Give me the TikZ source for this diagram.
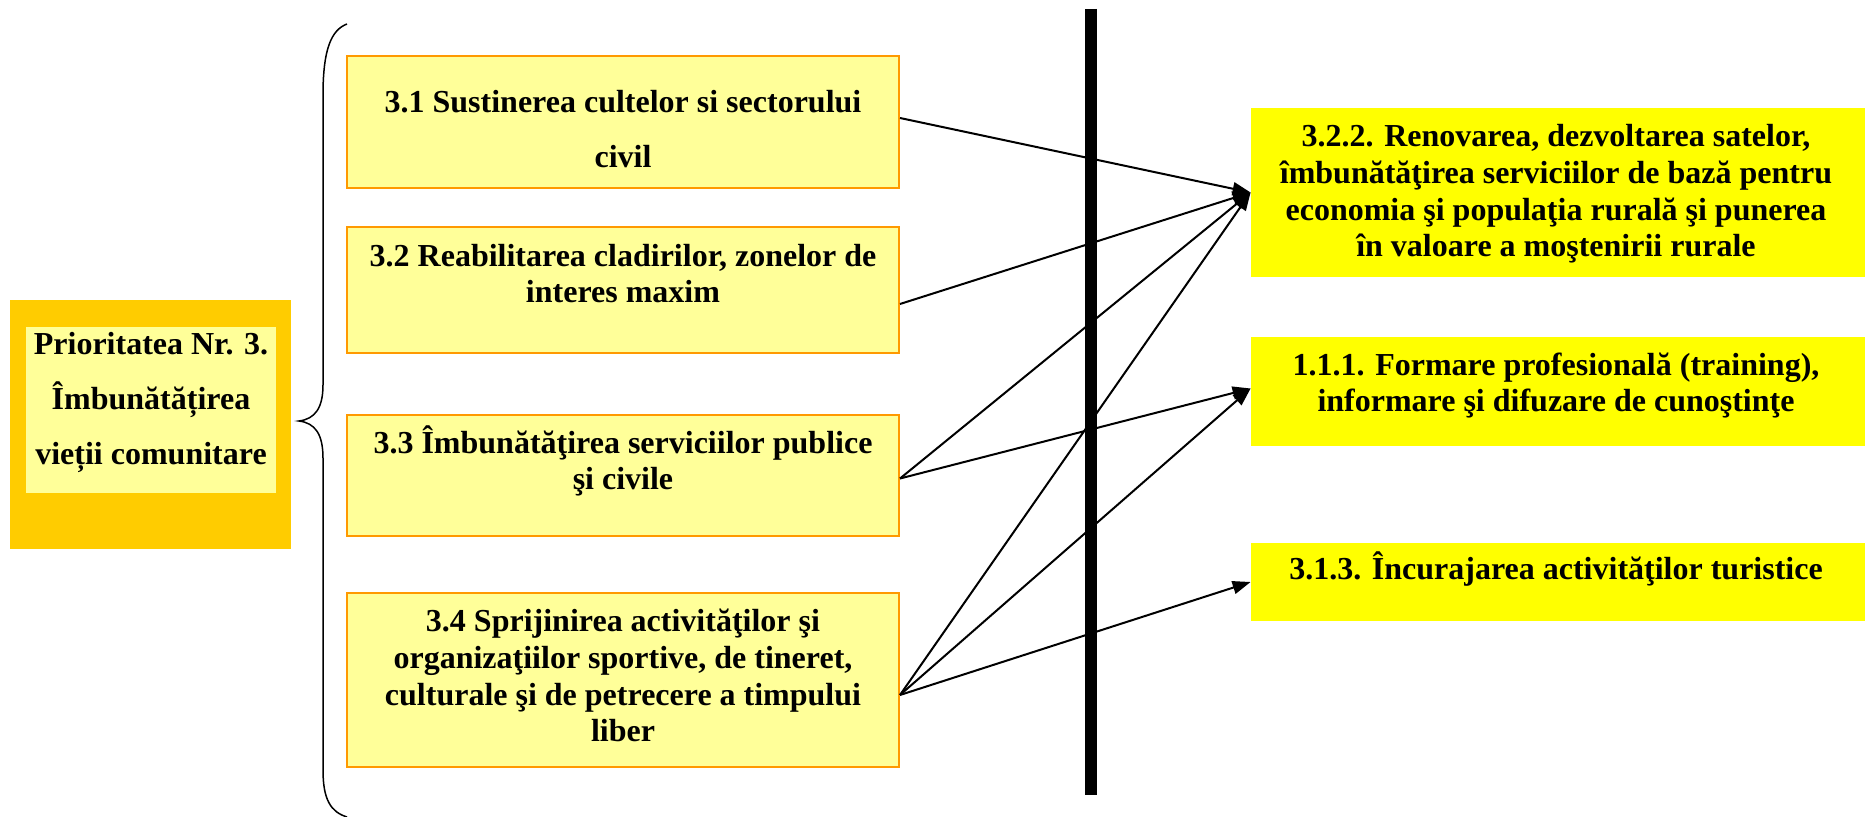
\documentclass[tikz,border=0pt]{standalone}
\usepackage{fontspec}
\setmainfont{Liberation Serif}
\usetikzlibrary{arrows.meta,calc}
\definecolor{gold}{HTML}{FFCC00}
\definecolor{pale}{HTML}{FFFF99}
\definecolor{ylw}{HTML}{FFFF00}
\definecolor{orng}{HTML}{FF9900}
\begin{document}
\begin{tikzpicture}[x=0.5pt,y=-0.5pt,
  box/.style={inner sep=0pt, minimum width=276pt},
  subbox/.style={box, fill=pale, draw=orng, line width=1pt},
  goal/.style={inner sep=0pt, minimum width=307pt, fill=ylw},
  txt/.style={inner sep=0pt, align=center, font=\bfseries\fontsize{16}{18.35}\selectfont},
  wtxt/.style={txt, font=\bfseries\fontsize{16}{27.5}\selectfont},
  arr/.style={line width=1pt, -{Triangle[length=9pt,width=6.5pt]}},
  brace/.style={line width=0.75pt}]
\useasboundingbox (0,0) rectangle (1865,817);
% priority box
\node[inner sep=0pt, fill=gold, minimum width=140.5pt, minimum height=124.5pt] (prio) at (150.5,424.5) {};
\node[inner sep=0pt, fill=pale, minimum width=125pt, minimum height=83pt] (prioin) at (151,410) {};
\node[wtxt, anchor=base] (priot) at (151,465) {Prioritatea Nr. 3.\\Îmbunătățirea\\vieții comunitare};
% brace
\draw[brace] (347,24) .. controls (331,30) and (323,50) .. (323,95) -- (323,385)
  .. controls (323,408) and (315,419) .. (299,421)
  .. controls (315,423) and (323,434) .. (323,458) -- (323,770)
  .. controls (323,800) and (331,812) .. (347,817);
% sub-measure boxes
\node[subbox, minimum height=66pt] (b31) at (623,122) {};
\node[subbox, minimum height=63pt] (b32) at (623,290) {};
\node[subbox, minimum height=60.5pt] (b33) at (623,475.5) {};
\node[subbox, minimum height=87pt] (b34) at (623,680) {};
\node[wtxt, anchor=base] (t31) at (623,168) {3.1 Sustinerea cultelor si sectorului\\civil};
\node[txt, anchor=base] (t32) at (623,303) {3.2 Reabilitarea cladirilor, zonelor de\\interes maxim};
\node[txt, anchor=base] (t33) at (623,490) {3.3 Îmbunătăţirea serviciilor publice\\şi civile};
\node[txt, anchor=base] (t34) at (623,742) {3.4 Sprijinirea activităţilor şi\\organizaţiilor sportive, de tineret,\\culturale şi de petrecere a timpului\\liber};
% goal boxes
\node[goal, minimum height=84.5pt] (g322) at (1558,192.5) {};
\node[goal, minimum height=54.5pt] (g111) at (1558,391.5) {};
\node[goal, minimum height=39pt] (g313) at (1558,582) {};
\node[txt, anchor=base] (t322) at (1556,257) {3.2.2. Renovarea, dezvoltarea satelor,\\îmbunătăţirea serviciilor de bază pentru\\economia şi populaţia rurală şi punerea\\în valoare a moştenirii rurale};
\node[txt, anchor=base] (t111) at (1556,412) {1.1.1. Formare profesională (training),\\informare şi difuzare de cunoştinţe};
\node[txt, anchor=base] (t313) at (1556,580) {3.1.3. Încurajarea activităţilor turistice};
% bar
\coordinate (bartop) at (1091,9);
\coordinate (barbot) at (1091,795);
\draw[line width=6pt] (bartop) -- (barbot);
% arrows
\draw[arr] ($(b31.east)+(0,-4)$) -- (g322.west);
\draw[arr] ($(b32.east)+(0,14)$) -- (g322.west);
\draw[arr] ($(b33.east)+(0,3)$) -- (g322.west);
\draw[arr] ($(b33.east)+(0,3)$) -- ($(g111.west)+(0,-3)$);
\draw[arr] ($(b34.east)+(0,15)$) -- (g322.west);
\draw[arr] ($(b34.east)+(0,15)$) -- ($(g111.west)+(0,-3)$);
\draw[arr] ($(b34.east)+(0,15)$) -- (g313.west);
\end{tikzpicture}
\end{document}
